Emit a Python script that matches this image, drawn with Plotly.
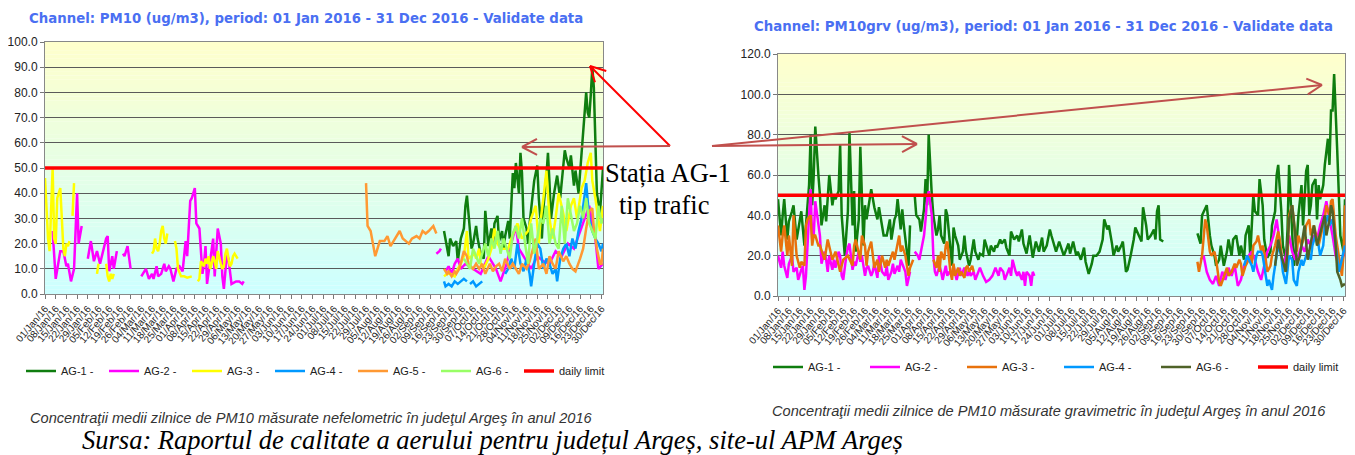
import math
import pandas as pd
import plotly.graph_objects as go

# the page body has an 8px margin, so the figure is made 8px smaller and
# every pixel position below is given in window coordinates
OX, OY = 8, 8
W, H = 1355 - OX, 455 - OY
START = pd.Timestamp("2016-01-01")
END = pd.Timestamp("2016-12-31")

# ---- left chart: PM10 nefelometric, (day of year, ug/m3), None = missing ----
l_ag1 = [(261,25),(264,15),(265,22),(267,19),(269,21),(270,13),(272,22),(274,26),(275,35),(276,39),(278,25),(279,18),(280,20),(282,27),(283,22),(285,16),(287,14),(288,33),(290,19),(292,26),(293,20),(294,28),(296,31),(297,21),(299,25),(300,18),(301,23),(303,29),(304,22),(306,48),(307,42),(308,52),(310,40),(311,56),(312,48),(313,30),(315,26),(316,20),(317,28),(319,38),(320,45),(322,51),(323,38),(325,22),(326,34),(328,47),(329,56),(330,44),(331,30),(333,40),(334,44),(335,47),(337,38),(339,50),(340,57),(341,54),(343,50),(344,55),(346,43),(347,49),(349,40),(351,56),(352,63),(354,80),(355,72),(356,70),(357,79),(358,90),(359,82),(360,55),(361,40),(363,32),(364,40),(365,50)]
l_ag2 = [(5,25),(7,6),(10,17),(12,17),(14,11),(15,12),(17,5),(19,10),(21,40),(22,20),(24,27),(26,None),(28,14),(30,21),(32,13),(34,17),(36,12),(40,22),(41,23),(42,9),(44,15),(45,10),(47,17),(49,None),(51,16),(52,15),(54,19),(56,10),(60,None),(63,7),(66,10),(68,6),(70,8),(71,6),(73,11),(74,7),(76,8),(78,12),(79,9),(81,11),(82,10),(84,5),(86,10),(88,11),(90,9),(92,21),(93,15),(95,37),(96,38),(98,42),(99,28),(101,26),(103,8),(104,12),(105,19),(106,4),(108,14),(109,17),(110,22),(111,7),(113,26),(115,20),(116,7),(117,2),(119,16),(120,14),(122,4),(125,5),(127,5),(129,4),(130,5),(140,None),(256,16),(258,17),(259,18),(260,None),(262,9),(264,11),(266,8),(268,12),(270,14),(272,10),(275,12),(280,10),(285,8),(290,15),(295,10),(298,5),(302,12),(305,20),(308,27),(310,18),(314,14),(318,10),(322,15),(326,13),(330,12),(334,17),(338,15),(342,20),(346,18),(350,25),(353,30),(356,35),(358,28),(360,22),(362,10),(365,12)]
l_ag3 = [(0,46),(1,33),(2,22),(3,17),(4,35),(5,50),(6,22),(7,20),(8,38),(9,40),(10,42),(11,30),(12,18),(13,15),(14,20),(15,19),(16,21),(17,None),(18,31),(19,44),(20,None),(34,8),(35,12),(37,None),(40,12),(41,7),(42,5),(43,8),(44,6),(45,8),(46,None),(70,16),(71,17),(72,22),(73,18),(74,17),(75,20),(76,25),(77,27),(78,22),(79,20),(80,24),(82,None),(85,21),(86,18),(87,10),(88,8),(89,7),(91,7),(93,6.5),(96,7),(98,None),(100,5),(101,6),(102,13),(103,12),(104,11),(105,14),(106,12),(107,15),(108,10),(109,12),(110,15),(111,13),(112,10),(113,17),(114,14),(115,12),(116,10),(117,11),(118,16),(119,18),(120,14),(121,11),(122,12),(123,15),(124,16),(125,15),(126,14),(130,None),(261,7),(263,8),(265,8),(268,7),(270,10),(272,12),(274,15),(276,25),(277,14),(279,15),(281,16),(282,14),(284,18),(285,12),(287,10),(290,14),(292,18),(294,26),(296,20),(298,18),(303,18),(305,22),(307,25),(309,28),(312,22),(316,25),(318,30),(321,35),(323,20),(324,28),(326,38),(328,49),(330,30),(332,22),(334,30),(336,40),(339,32),(341,25),(344,35),(346,38),(348,30),(351,42),(353,45),(355,52),(357,56),(358,45),(360,38),(362,30),(363,25),(365,35)]
l_ag4 = [(261,5),(262,3),(264,4),(266,3),(268,5),(270,4),(272,5),(274,6),(276,5),(277,None),(278,4),(280,5),(282,3),(284,4),(286,5),(288,None),(301,8),(303,10),(305,14),(307,10),(309,20),(311,12),(313,9),(315,14),(317,8),(318,3),(320,12),(322,20),(324,18),(326,10),(328,14),(330,12),(332,8),(334,10),(335,5),(337,14),(339,18),(341,20),(343,15),(345,22),(347,18),(349,25),(351,30),(353,38),(354,44),(356,30),(358,25),(360,22),(362,20),(364,17),(365,20)]
l_ag5 = [(210,44),(211,27),(213,25),(214,22),(216,15),(219,21),(222,21),(224,23),(226,19),(228,21),(232,25),(234,22),(238,20),(240,22),(243,23),(245,22),(247,25),(249,24),(251,25),(254,27),(256,24),(258,None),(261,10),(263,8),(264,9),(266,7),(268,9),(269,8),(271,10),(272,12),(274,17),(276,15),(277,12),(280,10),(282,12),(284,10),(286,12),(288,8),(291,12),(293,9),(295,11),(297,12),(299,9),(301,14),(304,10),(306,12),(308,10),(310,8),(312,12),(315,10),(317,13),(319,17),(321,22),(323,10),(326,12),(328,8),(330,15),(332,12),(334,10),(336,17),(339,13),(341,15),(343,12),(345,10),(347,9),(350,14),(352,18),(354,26),(356,33),(358,34),(359,26),(361,18),(363,12),(364,12),(365,18)]
l_ag6 = [(274,14),(276,12),(278,10),(280,18),(282,15),(284,12),(286,16),(288,20),(290,15),(292,22),(294,18),(296,25),(298,16),(300,22),(302,18),(304,14),(306,24),(308,27),(310,22),(312,30),(314,20),(316,12),(318,28),(320,16),(322,22),(324,30),(326,28),(328,35),(330,20),(332,26),(334,20),(336,18),(338,35),(340,20),(342,38),(344,32),(346,25),(348,28),(350,35),(352,30),(354,38),(356,28),(358,25),(360,22),(362,35),(364,28),(365,30)]

# ---- right chart: PM10 gravimetric ----
r_ag1 = [(0,48),(2,30),(3,40),(4,48),(6,28),(7,37),(9,42),(10,45),(12,28),(14,38),(15,42),(17,25),(18,35),(20,55),(21,80),(22,45),(23,60),(24,84),(26,60),(27,50),(28,35),(30,45),(31,37),(32,50),(33,60),(35,45),(36,50),(37,48),(39,52),(40,75),(41,40),(42,30),(43,20),(45,42),(46,81),(48,35),(49,52),(50,22),(52,38),(53,74),(55,25),(56,45),(57,38),(59,48),(60,53),(62,44),(64,38),(65,44),(67,35),(68,30),(70,30),(72,38),(73,28),(75,38),(76,40),(77,48),(79,33),(80,43),(81,35),(83,20),(84,15),(85,35),(86,None),(88,50),(89,40),(91,38),(92,32),(94,43),(95,58),(96,45),(97,80),(99,50),(100,40),(102,30),(103,33),(104,40),(105,30),(107,26),(108,43),(109,40),(111,22),(112,15),(113,34),(114,30),(116,25),(117,18),(119,22),(120,30),(121,22),(123,15),(124,18),(126,28),(127,22),(129,18),(130,21),(132,20),(133,28),(134,25),(136,20),(137,25),(139,22),(140,25),(141,24),(143,28),(144,26),(146,28),(147,24),(149,20),(150,32),(152,28),(154,30),(155,27),(157,33),(158,26),(160,21),(162,30),(164,19),(166,27),(168,22),(170,29),(171,22),(173,25),(175,33),(176,30),(178,25),(179,22),(181,27),(182,25),(184,20),(185,22),(187,26),(188,21),(190,27),(192,20),(193,22),(195,18),(197,24),(198,17),(200,11),(202,16),(203,20),(205,20),(207,22),(209,28),(210,38),(212,33),(213,35),(215,26),(216,20),(218,25),(219,22),(221,25),(222,27),(224,12),(225,13),(227,20),(229,28),(230,34),(232,30),(234,27),(235,44),(237,35),(238,28),(240,30),(242,33),(243,28),(244,42),(245,45),(246,28),(248,27),(250,None),(270,31),(272,26),(273,40),(275,43),(276,45),(278,30),(279,25),(281,20),(282,15),(284,18),(285,25),(287,15),(289,22),(290,28),(292,20),(293,28),(295,30),(297,20),(298,25),(300,18),(301,30),(303,35),(304,20),(306,50),(307,42),(309,40),(310,58),(312,45),(313,28),(315,19),(317,22),(318,35),(320,42),(321,60),(322,65),(324,42),(325,25),(327,18),(328,33),(329,65),(331,30),(332,15),(334,28),(335,40),(337,55),(338,35),(340,62),(341,65),(342,40),(343,45),(344,55),(346,58),(347,38),(348,55),(349,48),(351,55),(352,65),(354,78),(355,65),(356,92),(357,92),(358,110),(360,72),(361,45),(362,30),(364,22),(365,48)]
r_ag2 = [(0,20),(2,14),(3,22),(4,15),(6,9),(7,16),(9,20),(10,12),(12,14),(13,8),(15,13),(16,15),(17,3),(18,10),(20,40),(21,53),(22,28),(23,30),(24,47),(26,35),(27,30),(28,16),(30,22),(31,18),(32,12),(33,20),(35,13),(36,18),(37,14),(39,22),(40,20),(41,10),(42,8),(44,20),(45,24),(46,26),(48,13),(49,17),(50,15),(52,22),(53,17),(54,20),(56,10),(57,14),(58,15),(60,10),(61,12),(62,16),(64,9),(65,20),(66,15),(67,12),(69,10),(70,15),(71,8),(73,12),(74,16),(75,11),(77,15),(78,12),(79,18),(80,16),(82,12),(83,5),(84,8),(85,12),(86,None),(88,22),(90,20),(91,18),(92,22),(94,30),(95,38),(96,48),(97,52),(99,40),(100,20),(101,12),(102,10),(104,15),(105,12),(106,8),(108,15),(109,10),(110,12),(112,10),(113,15),(114,12),(115,8),(117,14),(118,10),(119,12),(120,14),(122,10),(123,13),(124,10),(126,12),(127,8),(129,12),(130,14),(132,10),(133,8),(134,7),(136,8),(137,9),(138,10),(140,14),(141,12),(142,10),(143,14),(145,12),(146,8),(147,10),(149,14),(150,10),(151,18),(153,12),(154,10),(155,12),(157,8),(158,12),(159,5),(160,12),(162,10),(163,5),(164,12),(165,10),(167,None),(272,18),(274,20),(276,12),(278,8),(280,6),(282,10),(284,5),(286,12),(288,8),(290,14),(292,10),(294,15),(296,5),(298,8),(300,15),(303,20),(305,22),(307,18),(309,12),(311,8),(313,15),(315,22),(317,25),(319,30),(321,38),(323,25),(325,15),(327,20),(329,30),(331,22),(333,18),(335,20),(337,25),(339,22),(341,28),(343,25),(345,30),(347,28),(349,35),(351,40),(353,47),(355,38),(357,30),(359,20),(361,15),(363,18),(365,22)]
r_ag3 = [(0,35),(2,22),(3,30),(4,35),(6,20),(7,30),(9,15),(10,40),(11,30),(12,20),(14,14),(15,17),(17,15),(18,35),(19,38),(21,40),(22,25),(23,30),(24,30),(26,25),(27,25),(30,18),(32,28),(35,18),(37,22),(40,12),(42,18),(45,20),(48,15),(49,25),(50,28),(52,22),(53,18),(54,30),(56,25),(57,15),(58,22),(60,27),(61,20),(62,14),(64,18),(65,12),(66,16),(67,20),(69,14),(70,18),(71,15),(73,20),(74,22),(75,18),(77,25),(78,30),(79,22),(80,25),(82,20),(83,15),(84,10),(85,14),(87,18),(89,None),(100,18),(102,14),(103,20),(104,12),(105,22),(107,18),(108,25),(109,27),(111,12),(112,8),(113,16),(114,10),(116,14),(117,10),(118,12),(120,9),(121,14),(122,15),(123,12),(125,15),(126,12),(128,None),(270,17),(271,12),(273,20),(275,38),(276,35),(278,22),(279,20),(281,22),(282,18),(283,12),(284,7),(285,5),(287,10),(289,14),(290,10),(292,12),(294,16),(295,14),(297,18),(298,16),(299,10),(301,15),(303,18),(304,20),(305,16),(306,25),(308,27),(309,30),(311,22),(312,25),(314,18),(315,12),(317,15),(318,20),(320,25),(322,32),(323,28),(325,15),(326,12),(328,20),(329,40),(331,45),(332,38),(334,22),(335,30),(337,25),(339,30),(340,35),(342,38),(343,30),(345,35),(347,28),(348,25),(350,32),(352,38),(353,45),(355,40),(356,47),(357,48),(359,30),(360,25),(362,15),(363,10),(364,20),(365,45)]
r_ag4 = [(300,15),(302,20),(305,15),(306,12),(308,20),(309,22),(311,22),(312,20),(314,10),(315,5),(316,8),(318,3),(319,10),(321,20),(322,25),(324,20),(325,12),(327,6),(328,15),(329,20),(331,18),(332,8),(334,5),(335,12),(337,18),(338,15),(340,20),(341,22),(343,18),(344,25),(346,30),(348,25),(349,20),(351,25),(352,35),(354,40),(355,35),(357,38),(358,32),(360,20),(361,12),(362,15),(364,22),(365,25)]
r_ag6 = [(320,15),(322,28),(324,20),(327,12),(329,38),(331,45),(333,30),(334,15),(336,20),(337,25),(339,35),(341,18),(342,22),(344,30),(345,35),(347,25),(348,28),(350,35),(352,40),(353,30),(355,38),(356,45),(357,42),(359,25),(360,12),(362,8),(363,5),(365,6)]

LIMIT = 50

left_series = [("AG-1 -", l_ag1, "#0f7d0f"), ("AG-2 -", l_ag2, "#ff00ff"), ("AG-3 -", l_ag3, "#ffff00"),
               ("AG-4 -", l_ag4, "#0099ff"), ("AG-5 -", l_ag5, "#ff9933"), ("AG-6 -", l_ag6, "#99ff66")]
right_series = [("AG-1 -", r_ag1, "#0f7d0f"), ("AG-2 -", r_ag2, "#ff00ff"), ("AG-3 -", r_ag3, "#e8720c"),
                ("AG-4 -", r_ag4, "#0099ff"), ("AG-6 -", r_ag6, "#4f6228")]


def to_xy(pairs):
    days = [d for d, v in pairs]
    vals = [v for d, v in pairs]
    return START + pd.to_timedelta(days, unit="D"), vals


def px_x(x):
    return (x - OX) / W


def px_y(y):
    return 1 - (y - OY) / H


fig = go.Figure()

for xa, ya, leg, series in (("x", "y", "legend", left_series), ("x2", "y2", "legend2", right_series)):
    for name, pairs, color in series:
        xs, ys = to_xy(pairs)
        fig.add_trace(go.Scatter(x=xs, y=ys, mode="lines", name=name, xaxis=xa, yaxis=ya, legend=leg,
                                 line=dict(color=color, width=2.5), connectgaps=False))
    fig.add_trace(go.Scatter(x=[START, END], y=[LIMIT, LIMIT], mode="lines", name="daily limit",
                             xaxis=xa, yaxis=ya, legend=leg, line=dict(color="#ff0000", width=3.5)))
    # empty entry so the last legend label is not clipped
    fig.add_trace(go.Scatter(x=[None], y=[None], mode="lines", name=" ", xaxis=xa, yaxis=ya, legend=leg,
                             line=dict(color="rgba(0,0,0,0)"), hoverinfo="skip"))

# gradient background (yellow top -> cyan bottom)
shapes = []
N = 60
top, bot = (255, 255, 204), (204, 255, 255)
for xd, yd in (("x domain", "y domain"), ("x2 domain", "y2 domain")):
    for i in range(N):
        t = (i + 0.5) / N
        c = tuple(round(bot[k] + (top[k] - bot[k]) * t) for k in range(3))
        shapes.append(dict(type="rect", xref=xd, yref=yd, x0=0, x1=1, y0=i / N, y1=(i + 1.02) / N,
                           fillcolor="rgb(%d,%d,%d)" % c, line=dict(width=0), layer="below"))


def arrow(x0, y0, x1, y1, color, width=2, head=17, ang=28):
    seg = [(x0, y0, x1, y1)]
    th = math.atan2(y0 - y1, x0 - x1)
    for s in (-1, 1):
        t = th + s * math.radians(ang)
        seg.append((x1, y1, x1 + head * math.cos(t), y1 + head * math.sin(t)))
    return [dict(type="line", xref="paper", yref="paper", x0=px_x(a), y0=px_y(b), x1=px_x(c), y1=px_y(d),
                 line=dict(color=color, width=width)) for a, b, c, d in seg]


shapes += arrow(670, 146, 590, 66, "#ff0000")
shapes += arrow(670, 146, 522, 147, "#c0504d")
shapes += arrow(712, 146, 917, 144, "#c0504d")
shapes += arrow(712, 146, 1322, 85, "#c0504d")

xcommon = dict(type="date", tick0=START, dtick=7 * 86400000, tickformat="%d/%b/%y", tickangle=-50,
               tickfont=dict(size=10, color="#222"), ticks="outside", ticklen=4, tickcolor="#777",
               showgrid=False, showline=True, linecolor="#888", mirror=True, zeroline=False,
               range=[START, END], fixedrange=True)
ycommon = dict(tickformat=".1f", tickfont=dict(size=12, color="#222"), ticks="outside", ticklen=4,
               tickcolor="#777", showgrid=True, gridcolor="#5a5a5a", gridwidth=1, showline=True,
               linecolor="#888", mirror=True, zeroline=False)

title_font = dict(family="DejaVu Sans", size=13.3, color="#4a6ff2")
cap_font = dict(family="Liberation Sans", size=14.6, color="#333")
serif = dict(family="Liberation Serif", size=26.5, color="#000")
annotations = [
    dict(text="<b>Channel: PM10 (ug/m3), period: 01 Jan 2016 - 31 Dec 2016 - Validate data</b>",
         x=px_x(306), y=px_y(18), font=title_font),
    dict(text="<b>Channel: PM10grv (ug/m3), period: 01 Jan 2016 - 31 Dec 2016 - Validate data</b>",
         x=px_x(1043), y=px_y(27), font=title_font),
    dict(text="<i>Concentraţii medii zilnice de PM10 măsurate nefelometric în judeţul Argeş în anul 2016</i>",
         x=px_x(311), y=px_y(418), font=cap_font),
    dict(text="<i>Concentraţii medii zilnice de PM10 măsurate gravimetric în judeţul Argeş în anul 2016</i>",
         x=px_x(1049), y=px_y(411), font=cap_font),
    dict(text="<i>Sursa: Raportul de calitate a aerului pentru județul Argeș, site-ul APM Argeș</i>",
         x=px_x(492), y=px_y(440), font=serif),
    dict(text="Stația AG-1", x=px_x(668), y=px_y(173), font=serif),
    dict(text="tip trafic", x=px_x(664), y=px_y(205), font=serif),
]
for a in annotations:
    a.update(xref="paper", yref="paper", showarrow=False, xanchor="center", yanchor="middle")

legend_common = dict(orientation="h", xanchor="left", yanchor="middle", entrywidthmode="pixels",
                     itemwidth=30, bgcolor="rgba(0,0,0,0)",
                     font=dict(family="Liberation Sans", size=11, color="#222"), tracegroupgap=0)

fig.update_layout(
    width=W, height=H, margin=dict(l=0, r=0, t=0, b=0, autoexpand=False),
    paper_bgcolor="white", plot_bgcolor="white",
    font=dict(family="Liberation Sans"),
    xaxis=dict(domain=[px_x(45), px_x(603)], anchor="y", **xcommon),
    yaxis=dict(domain=[px_y(294), px_y(42)], anchor="x", range=[0, 100], dtick=10, **ycommon),
    xaxis2=dict(domain=[px_x(778), px_x(1345)], anchor="y2", **xcommon),
    yaxis2=dict(domain=[px_y(296), px_y(54)], anchor="x2", range=[0, 120], dtick=20, **ycommon),
    legend=dict(x=px_x(21), y=px_y(371), entrywidth=38, **legend_common),
    legend2=dict(x=px_x(768), y=px_y(367), entrywidth=52, **legend_common),
    shapes=shapes,
    annotations=annotations,
    showlegend=True,
)

fig.write_html("out.html")
